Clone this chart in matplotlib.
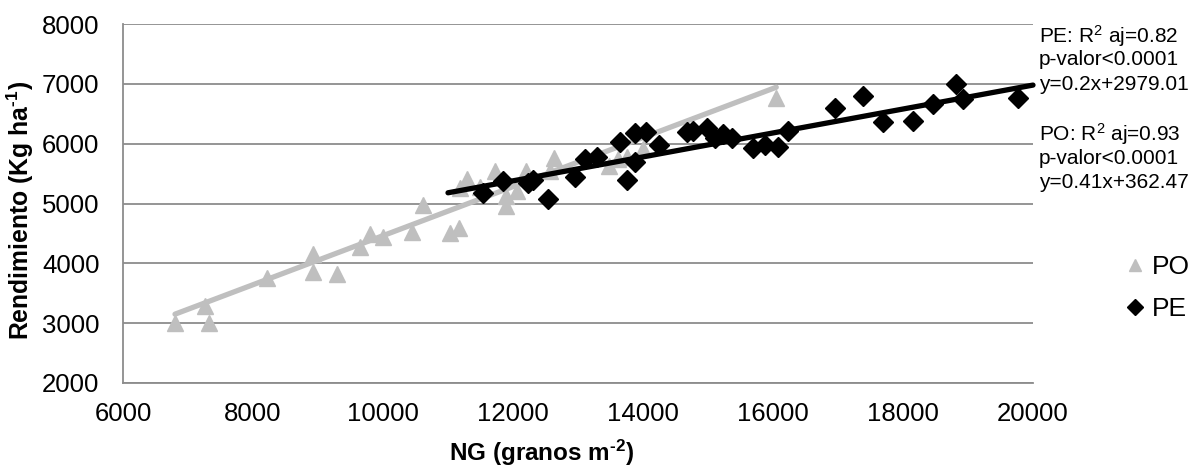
import matplotlib
matplotlib.use("Agg")
import matplotlib.pyplot as plt
import numpy as np

plt.rcParams["font.family"] = ["Liberation Sans", "DejaVu Sans"]
plt.rcParams["mathtext.fontset"] = "custom"
plt.rcParams["mathtext.default"] = "regular"

# Número de granos (NG) y rendimiento para cada grupo
po_ng = [6800, 7260, 7320, 8210, 8920, 8920, 9290, 9650, 9800, 10000,
         10440, 10620, 11030, 11170, 11180, 11290, 11490, 11730, 11890,
         11890, 12060, 12200, 12570, 12630, 13470, 13620, 13750, 14000, 16050]
po_rend = [3010, 3290, 3000, 3750, 4160, 3860, 3830, 4270, 4490, 4440,
           4530, 4970, 4510, 4590, 5260, 5410, 5270, 5550, 4960,
           5130, 5210, 5540, 5550, 5760, 5630, 5740, 5770, 5910, 6770]

pe_ng = [11540, 11850, 12230, 12310, 12540, 12950, 13110, 13290, 13650,
         13750, 13880, 13880, 14050, 14250, 14680, 14770, 14990, 15110,
         15230, 15370, 15690, 15880, 16080, 16230, 16950, 17390, 17690,
         18150, 18460, 18810, 18920, 19770]
pe_rend = [5170, 5380, 5340, 5390, 5080, 5440, 5750, 5770, 6020,
           5400, 5690, 6170, 6190, 5970, 6190, 6210, 6260, 6100,
           6160, 6090, 5920, 5970, 5940, 6210, 6590, 6790, 6370,
           6380, 6670, 7000, 6750, 6770]

# Ajustes lineales: pendiente, ordenada y rango de NG
po_fit = {"slope": 0.41, "intercept": 362.47, "range": [6800, 16050]}
pe_fit = {"slope": 0.2, "intercept": 2979.01, "range": [11000, 20000]}

po_stats = ["PO: R$^{2}$ aj=0.93", "p-valor<0.0001", "y=0.41x+362.47"]
pe_stats = ["PE: R$^{2}$ aj=0.82", "p-valor<0.0001", "y=0.2x+2979.01"]

x_ticks = [6000, 8000, 10000, 12000, 14000, 16000, 18000, 20000]
y_ticks = [2000, 3000, 4000, 5000, 6000, 7000, 8000]

GRAY = "#BFBFBF"
GRID = "#8C8C8C"
HYPHEN = "\u2010"

W, H = 1193, 466
fig = plt.figure(figsize=(W / 100, H / 100), dpi=100)
ax = fig.add_axes([123 / W, 1 - 383 / H, (1033 - 123) / W, (383 - 24) / H])

def fit_line(fit):
    xs = np.array(fit["range"], dtype=float)
    return xs, fit["slope"] * xs + fit["intercept"]

xs, ys = fit_line(po_fit)
ax.plot(xs, ys, color=GRAY, lw=3.8, solid_capstyle="round", zorder=3)
po_handle, = ax.plot(po_ng, po_rend, ls="none", marker="^", ms=11,
                     color=GRAY, mec=GRAY, zorder=4, label="PO", clip_on=False)
xs, ys = fit_line(pe_fit)
ax.plot(xs, ys, color="black", lw=3.8, solid_capstyle="round", zorder=5,
        clip_on=False)
pe_handle, = ax.plot(pe_ng, pe_rend, ls="none", marker="D", ms=10,
                     color="black", zorder=6, label="PE", clip_on=False)

ax.set_xlim(x_ticks[0], x_ticks[-1])
ax.set_ylim(y_ticks[0], y_ticks[-1])
ax.set_xticks(x_ticks)
ax.set_yticks(y_ticks)
ax.tick_params(axis="both", length=0, labelsize=18.5)
ax.tick_params(axis="x", pad=14)
ax.tick_params(axis="y", pad=17)
ax.grid(axis="y", color=GRID, lw=1.3, zorder=0)
ax.set_axisbelow(True)
for side in ("top", "right"):
    ax.spines[side].set_visible(False)
for side in ("left", "bottom"):
    ax.spines[side].set_color(GRID)
    ax.spines[side].set_linewidth(1.3)

fig.text(542 / W, 1 - 453 / H, "NG (granos m$^{%s2}$)" % HYPHEN,
         fontsize=17.5, fontweight="bold", ha="center", va="center")
fig.text(20 / W, 1 - 210 / H, "Rendimiento (Kg ha$^{%s1}$)" % HYPHEN,
         fontsize=17.8, fontweight="bold", ha="center", va="center",
         rotation=90)

for i, line in enumerate(pe_stats):
    fig.text(1039 / W, 1 - (36 + 24 * i) / H, line, fontsize=15,
             ha="left", va="center")
for i, line in enumerate(po_stats):
    fig.text(1039 / W, 1 - (134 + 24 * i) / H, line, fontsize=15,
             ha="left", va="center")

fig.legend(handles=[po_handle, pe_handle], loc="center left",
           bbox_to_anchor=(1127 / W, 1 - 288 / H), frameon=False,
           fontsize=19, handlelength=0.6, handletextpad=0.35,
           labelspacing=0.7, borderpad=0, borderaxespad=0, markerscale=0.85)

fig.savefig("out.png", dpi=100)
